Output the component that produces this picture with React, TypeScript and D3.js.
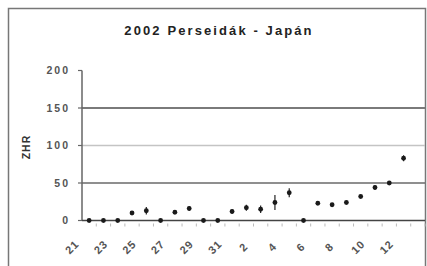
import React from "react";
import * as d3 from "d3";

// July 21 .. August 13
const days = ["21", "22", "23", "24", "25", "26", "27", "28", "29", "30", "31",
  "1", "2", "3", "4", "5", "6", "7", "8", "9", "10", "11", "12", "13"];
const zhr = [0, 0, 0, 10, 13, 0, 11, 16, 0, 0, 12, 17, 15, 24, 37, 0, 23, 21, 24, 32, 44, 50, 83, null];
const zhrErr = [0, 0, 0, 2, 5, 0, 2, 3, 0, 0, 3, 4, 5, 10, 6, 0, 2, 2, 2, 2, 3, 2, 4, 0];
const yTicks = [0, 50, 100, 150, 200];

const W = 427, H = 266;

export default function App() {
  const x = d3.scaleBand<string>().domain(days.map((d, i) => i + "")).range([82, 425]).padding(0);
  const y = d3.scaleLinear().domain([0, 200]).range([220.5, 70.5]);
  const bw = x.bandwidth();

  const gridStyle: Record<number, { stroke: string; w: number }> = {
    50: { stroke: "#6a6a6a", w: 1.5 },
    100: { stroke: "#c4c4c4", w: 1.5 },
    150: { stroke: "#7a7a7a", w: 2.2 },
  };

  return (
    <svg width={W} height={H} style={{ position: "absolute", left: 0, top: 0, background: "#fff" }}>
      <rect x={8.5} y={8.5} width={417} height={270} fill="#fff" stroke="#777" strokeWidth={1.5} />
      <text x={219} y={35} textAnchor="middle" fontFamily="Arial, 'Liberation Sans', sans-serif"
        fontWeight="bold" fontSize={13} letterSpacing={2.1} fill="#222">
        2002 Perseidák - Japán
      </text>

      {/* gridlines */}
      {yTicks.filter(t => gridStyle[t]).map(t => (
        <line key={t} x1={82} x2={425} y1={y(t)} y2={y(t)} stroke={gridStyle[t].stroke} strokeWidth={gridStyle[t].w} />
      ))}

      {/* y axis */}
      <line x1={82} x2={82} y1={70.5} y2={221} stroke="#666" strokeWidth={1.5} />
      {yTicks.map(t => (
        <g key={t}>
          <line x1={78} x2={82} y1={y(t)} y2={y(t)} stroke="#666" strokeWidth={1.2} />
          <text x={70} y={y(t)} dy="0.35em" textAnchor="end" fontFamily="Arial, 'Liberation Sans', sans-serif"
            fontWeight="bold" fontSize={10.5} letterSpacing={2} fill="#555">{t}</text>
        </g>
      ))}
      <text transform="translate(26,147) rotate(-90)" textAnchor="middle" dy="0.35em"
        fontFamily="Arial, 'Liberation Sans', sans-serif" fontWeight="bold" fontSize={10.5}
        letterSpacing={1} fill="#333">ZHR</text>

      {/* x axis */}
      <line x1={82} x2={425} y1={y(0)} y2={y(0)} stroke="#444" strokeWidth={1.6} />
      {days.map((d, i) => (
        <line key={"t" + i} x1={(x(i + "") as number) + bw} x2={(x(i + "") as number) + bw}
          y1={y(0) + 3} y2={y(0) + 6} stroke="#bbb" strokeWidth={1} />
      ))}
      {days.map((d, i) => i % 2 === 0 ? (
        <text key={"l" + i}
          transform={`translate(${(x(i + "") as number) + bw / 2 - 17},247) rotate(-45)`}
          textAnchor="middle" dy="0.35em" fontFamily="Arial, 'Liberation Sans', sans-serif"
          fontWeight="bold" fontSize={11} letterSpacing={1} fill="#555">{d}</text>
      ) : null)}

      {/* points with error bars */}
      {zhr.map((v, i) => {
        if (v === null) return null;
        const cx = (x(i + "") as number) + bw / 2;
        const e = zhrErr[i];
        return (
          <g key={"p" + i}>
            {e > 0 && <line x1={cx} x2={cx} y1={y(v + e)} y2={y(v - e)} stroke="#222" strokeWidth={1.2} />}
            <circle cx={cx} cy={y(v)} r={2.4} fill="#1a1a1a" />
          </g>
        );
      })}
    </svg>
  );
}
